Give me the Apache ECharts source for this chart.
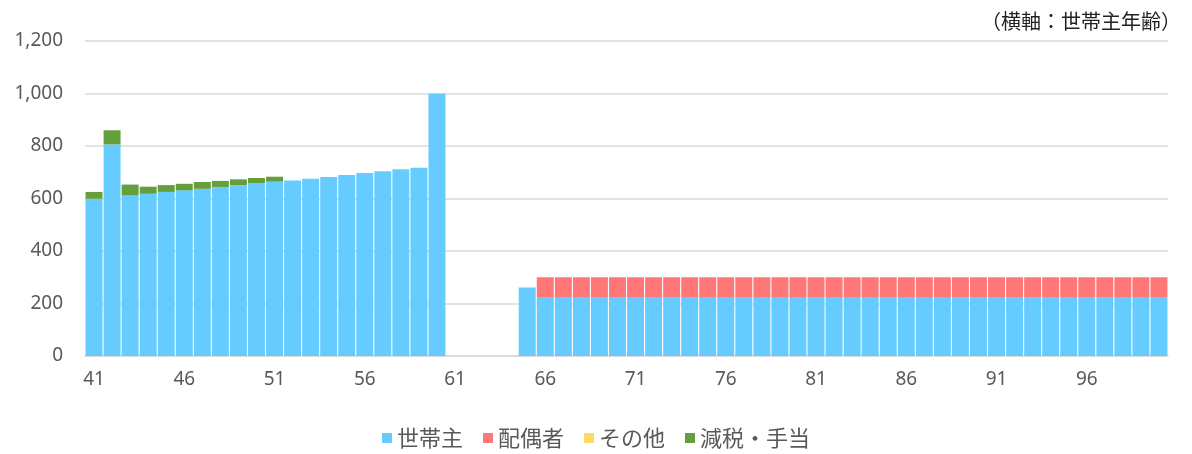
<!DOCTYPE html>
<html>
<head>
<meta charset="utf-8">
<script src="https://cdn.jsdelivr.net/npm/echarts@6/dist/echarts.min.js"></script>
<style>html,body{margin:0;padding:0;background:#fff}#c{width:1192px;height:454px}</style>
</head>
<body>
<div id="c"></div>
<script>
const categories = [];
for (let a = 41; a <= 100; a++) categories.push(String(a));

const householder = [599, 806, 612, 618, 625, 631, 637, 644, 650, 658, 664, 669, 675, 682, 690, 697, 704, 711, 717, 1000,
  null, null, null, null, 261,
  222, 222, 222, 222, 222, 222, 222, 222, 222, 222, 222, 222, 222, 222, 222, 222, 222, 222, 222, 222,
  222, 222, 222, 222, 222, 222, 222, 222, 222, 222, 222, 222, 222, 222, 222];
const spouse = [null, null, null, null, null, null, null, null, null, null, null, null, null, null, null, null, null, null, null, null,
  null, null, null, null, null,
  78, 78, 78, 78, 78, 78, 78, 78, 78, 78, 78, 78, 78, 78, 78, 78, 78, 78, 78, 78,
  78, 78, 78, 78, 78, 78, 78, 78, 78, 78, 78, 78, 78, 78, 78];
const other = categories.map(() => null);
const taxBenefit = [26, 54, 41, 27, 26, 25, 26, 23, 23, 20, 19];
const taxBenefitFull = categories.map((c, i) => i < taxBenefit.length ? taxBenefit[i] : null);

const seriesNames = ['世帯主', '配偶者', 'その他', '減税・手当'];
const seriesColors = ['#66CCFF', '#FF7777', '#FFD966', '#659F3B'];
const seriesData = [householder, spouse, other, taxBenefitFull];

const chart = echarts.init(document.getElementById('c'));
const jp = '"Noto Sans CJK JP", "Noto Sans", sans-serif';
chart.setOption({
  animation: false,
  textStyle: { fontFamily: jp },
  title: {
    text: '（横軸：世帯主年齢）',
    right: 6, top: 6,
    textStyle: { fontSize: 20, fontWeight: 'normal', color: '#222', fontFamily: jp }
  },
  legend: {
    bottom: 0,
    left: 'center',
    itemWidth: 10, itemHeight: 10, itemGap: 20,
    icon: 'rect',
    textStyle: { fontSize: 22, color: '#595959', fontFamily: jp, padding: [0, 0, 0, 0] },
    data: seriesNames
  },
  grid: { left: 85, right: 24, top: 41, bottom: 98, containLabel: false },
  xAxis: {
    type: 'category',
    data: categories,
    axisTick: { show: false },
    axisLine: { lineStyle: { color: '#D9D9D9', width: 1.5 } },
    axisLabel: { interval: 4, fontSize: 19, color: '#595959', margin: 14, fontFamily: '"Noto Sans", sans-serif' }
  },
  yAxis: {
    type: 'value',
    min: 0, max: 1200, interval: 200,
    axisLine: { show: false },
    axisTick: { show: false },
    splitLine: { lineStyle: { color: '#D9D9D9', width: 1.5 } },
    axisLabel: {
      fontSize: 19, color: '#595959', margin: 22, fontFamily: '"Noto Sans", sans-serif',
      formatter: v => v.toLocaleString('en-US')
    }
  },
  series: seriesNames.map((n, i) => ({
    name: n,
    type: 'bar',
    stack: 'total',
    data: seriesData[i],
    barCategoryGap: '6%',
    itemStyle: { color: seriesColors[i] }
  }))
});
</script>
</body>
</html>
